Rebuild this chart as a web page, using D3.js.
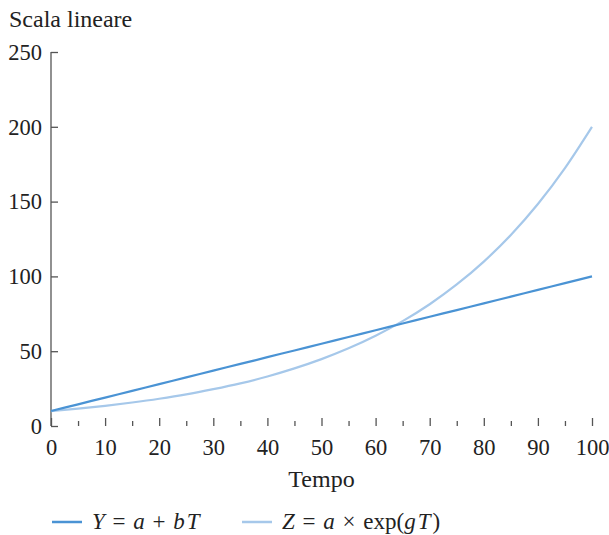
<!DOCTYPE html>
<html>
<head>
<meta charset="utf-8">
<script src="https://d3js.org/d3.v7.min.js"></script>
<style>
  body { margin: 0; background: #fff; }
  text { font-family: "Liberation Serif", "DejaVu Serif", serif; fill: #222; }
</style>
</head>
<body>
<svg width="609" height="535"></svg>
<script>
var tempo = [0, 5, 10, 15, 20, 25, 30, 35, 40, 45, 50, 55, 60, 65, 70, 75, 80, 85, 90, 95, 100];
var lineare = [10, 14.5, 19, 23.5, 28, 32.5, 37, 41.5, 46, 50.5, 55, 59.5, 64, 68.5, 73, 77.5, 82, 86.5, 91, 95.5, 100];
var esponenziale = [10, 11.6, 13.5, 15.7, 18.2, 21.1, 24.6, 28.5, 33.1, 38.5, 44.7, 51.9, 60.3, 70.1, 81.4, 94.6, 109.9, 127.7, 148.4, 172.4, 200];
var yTicks = [0, 50, 100, 150, 200, 250];
var xTicks = [0, 10, 20, 30, 40, 50, 60, 70, 80, 90, 100];
var xMinor = [5, 15, 25, 35, 45, 55, 65, 75, 85, 95];

var colY = "#4a93d4", colZ = "#a6c8ea", axisCol = "#555";

var svg = d3.select("svg"),
    margin = {top: 52, right: 17, bottom: 109, left: 51},
    width = +svg.attr("width") - margin.left - margin.right,
    height = +svg.attr("height") - margin.top - margin.bottom,
    g = svg.append("g").attr("transform", "translate(" + margin.left + "," + margin.top + ")");

var x = d3.scaleLinear().domain([0, 100]).range([0, width]);
var y = d3.scaleLinear().domain([0, 250]).range([height, 0]);

// assi
var xAxis = g.append("g")
    .attr("transform", "translate(0," + height + ")")
    .call(d3.axisBottom(x).tickValues(xTicks).tickSize(-8).tickPadding(13).tickFormat(d3.format("d")));
xAxis.selectAll(".tick text").attr("dy", "0.71em");
g.append("g")
    .attr("transform", "translate(0," + height + ")")
    .call(d3.axisBottom(x).tickValues(xMinor).tickSize(-5).tickFormat(""))
    .select(".domain").remove();

var yAxis = g.append("g")
    .call(d3.axisLeft(y).tickValues(yTicks).tickSize(-7).tickPadding(9).tickSizeOuter(0));

[xAxis, yAxis].forEach(function(a) {
  a.select(".domain").attr("stroke", axisCol).attr("stroke-width", 1.3);
  a.selectAll(".tick text").attr("font-size", 22.5).attr("font-family", "Liberation Serif").attr("fill", "#222");
});
g.selectAll(".tick line").attr("stroke", axisCol).attr("stroke-width", 1.3);
yAxis.select(".domain").attr("d", "M0," + y(250) + "V" + height);
xAxis.select(".domain").attr("d", "M0," + (height) + "H" + width + "V" + (height - 8));

svg.append("text")
    .attr("x", 9).attr("y", 27)
    .attr("font-size", 24)
    .text("Scala lineare");

svg.append("text")
    .attr("x", margin.left + width / 2).attr("y", 487)
    .attr("text-anchor", "middle")
    .attr("font-size", 24)
    .text("Tempo");

var line = d3.line()
    .x(function(d, i) { return x(tempo[i]); })
    .y(function(d) { return y(d); })
    .curve(d3.curveMonotoneX);

g.append("path")
    .datum(esponenziale)
    .attr("fill", "none")
    .attr("stroke", colZ)
    .attr("stroke-width", 2.2)
    .attr("d", line);

g.append("path")
    .datum(lineare)
    .attr("fill", "none")
    .attr("stroke", colY)
    .attr("stroke-width", 2.2)
    .attr("d", line);

// legenda
var legend = [
  {x: 52, col: colY, parts: [["Y", "i"], [" = ", ""], ["a", "i"], [" + ", ""], ["bT", "i"]]},
  {x: 242, col: colZ, parts: [["Z", "i"], [" = ", ""], ["a", "i"], [" \u00d7 exp(", ""], ["gT", "i"], [")", ""]]}
];
legend.forEach(function(l) {
  svg.append("line")
    .attr("x1", l.x).attr("x2", l.x + 30)
    .attr("y1", 522).attr("y2", 522)
    .attr("stroke", l.col).attr("stroke-width", 2.5);
  var t = svg.append("text")
    .attr("x", l.x + 40).attr("y", 529)
    .attr("font-size", 23)
    .attr("word-spacing", 2)
    .attr("xml:space", "preserve");
  l.parts.forEach(function(p) {
    t.append("tspan").attr("font-style", p[1] === "i" ? "italic" : "normal")
      .attr("letter-spacing", p[0] === "bT" || p[0] === "gT" ? 2 : 0)
      .text(p[0]);
  });
});
</script>
</body>
</html>
